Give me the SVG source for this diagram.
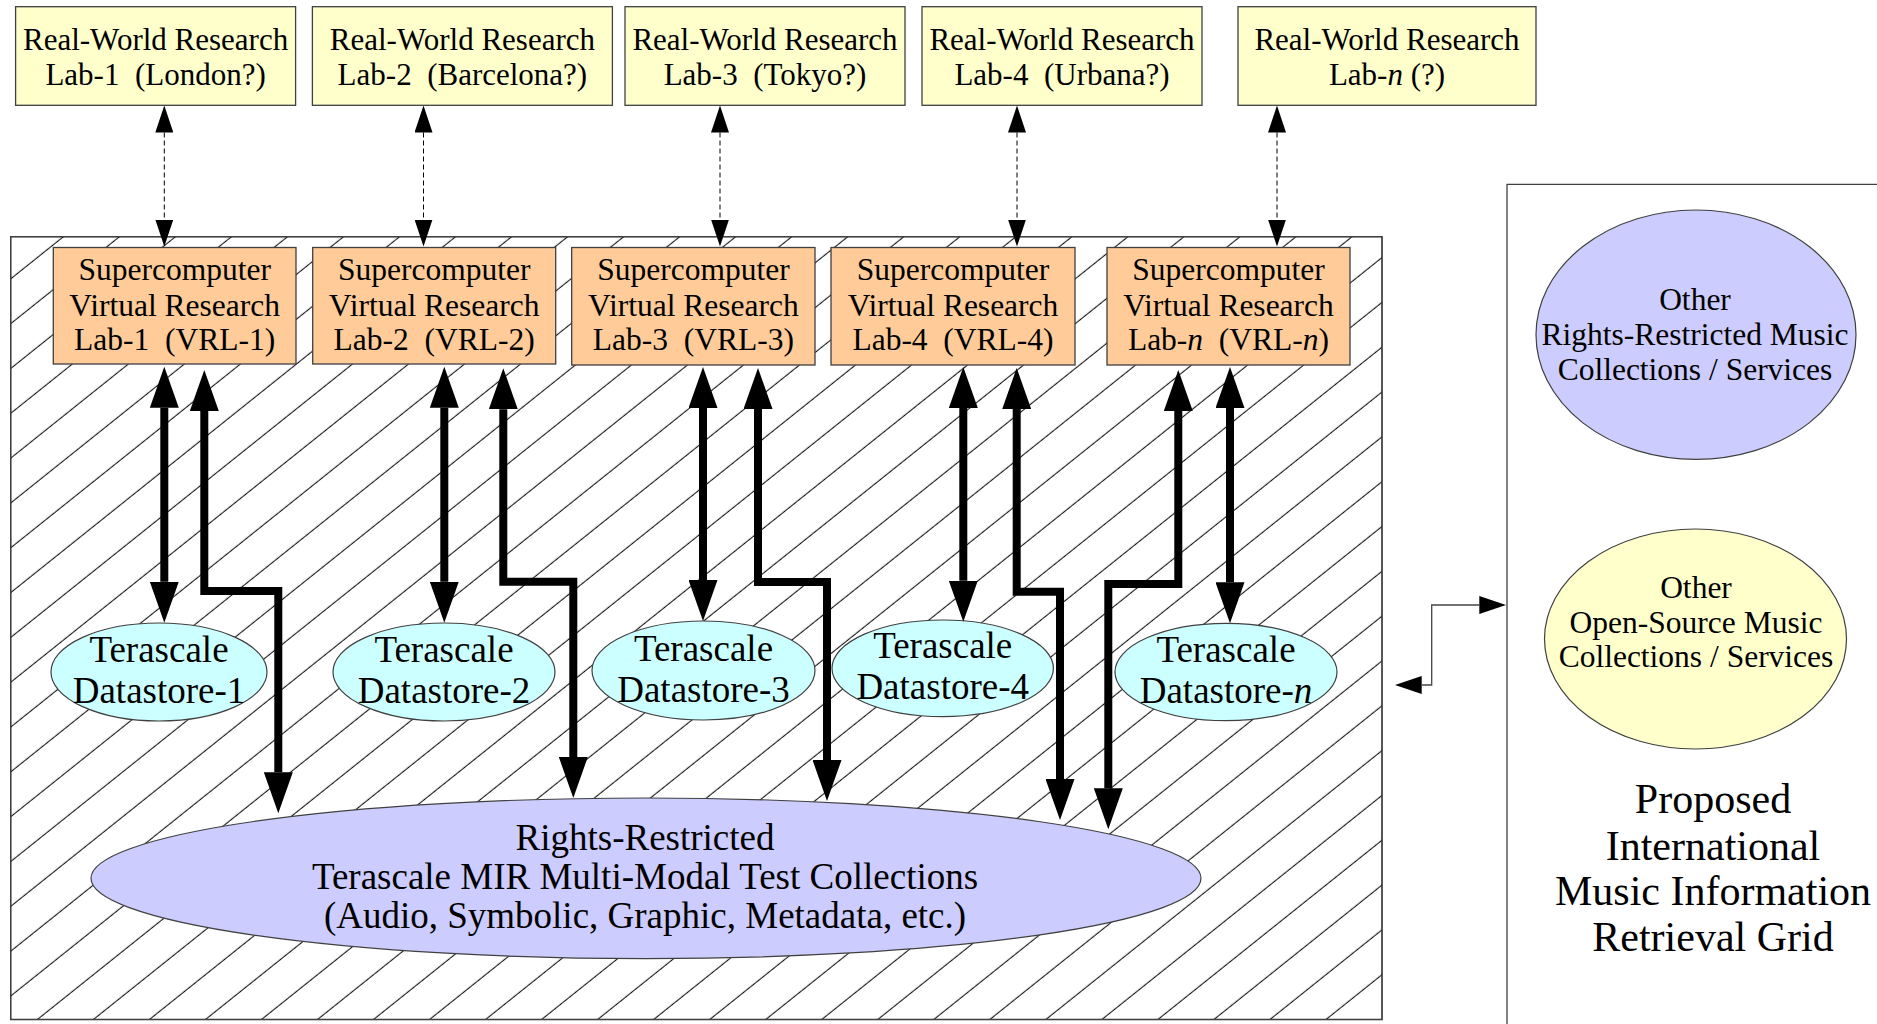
<svg xmlns="http://www.w3.org/2000/svg" width="1877" height="1024" viewBox="0 0 1877 1024">
<defs>
<pattern id="hatch" patternUnits="userSpaceOnUse" width="20" height="35" patternTransform="rotate(-38.66)">
<line x1="-1" y1="14.4" x2="21" y2="14.4" stroke="#000" stroke-width="1"/>
</pattern>
<marker id="big" markerUnits="userSpaceOnUse" viewBox="0 0 41 29" markerWidth="41" markerHeight="29" refX="0" refY="14.5" orient="auto-start-reverse"><path d="M0,0 L41,14.5 L0,29 Z" fill="#000"/></marker>
<marker id="small" markerUnits="userSpaceOnUse" viewBox="0 0 27 18" markerWidth="27" markerHeight="18" refX="0" refY="9" orient="auto-start-reverse"><path d="M0,0 L27,9 L0,18 Z" fill="#000"/></marker>
</defs>
<style>
.t{font-family:"Liberation Serif","Times New Roman",serif;fill:#000;text-anchor:middle}
.f31{font-size:31px}
.f31b{font-size:31.5px}
.f37{font-size:37px}
.f42{font-size:42px}
.lab{fill:#ffffcc;stroke:#404040;stroke-width:1.3}
.vrl{fill:#ffcc99;stroke:#404040;stroke-width:1.3}
.ds{fill:#ccffff;stroke:#404040;stroke-width:1.2}
.lav{fill:#ccccff;stroke:#404040;stroke-width:1.2}
.yel{fill:#ffffcc;stroke:#404040;stroke-width:1.2}
.thick{fill:none;stroke:#000;stroke-width:8;stroke-linejoin:miter;marker-start:url(#big);marker-end:url(#big)}
.dash{fill:none;stroke:#000;stroke-width:1;stroke-dasharray:5 3;marker-start:url(#small);marker-end:url(#small)}
.thin{fill:none;stroke:#444;stroke-width:1.3;marker-start:url(#small);marker-end:url(#small)}
</style>
<rect x="0" y="0" width="1877" height="1024" fill="#fff"/>

<g id="grid-frame">
<rect x="10.7" y="236.7" width="1371.3" height="782.8" fill="#fff" stroke="#404040" stroke-width="1.3"/>
<rect x="10.7" y="236.7" width="1371.3" height="782.8" fill="url(#hatch)"/>
<rect x="10.7" y="236.7" width="1371.3" height="782.8" fill="none" stroke="#404040" stroke-width="1.3"/>
</g>

<g id="mirgrid-panel">
<path d="M1507,1024 V184.3 H1877" fill="none" stroke="#404040" stroke-width="1.3"/>
</g>

<g id="rwl-1"><rect class="lab" x="15.6" y="6.7" width="280" height="98.6"/>
<text class="t f31" x="155.6" y="50">Real-World Research</text>
<text class="t f31" x="155.6" y="85" xml:space="preserve">Lab-1  (London?)</text></g>
<g id="rwl-2"><rect class="lab" x="312.4" y="6.7" width="300" height="98.6"/>
<text class="t f31" x="462.4" y="50">Real-World Research</text>
<text class="t f31" x="462.4" y="85" xml:space="preserve">Lab-2  (Barcelona?)</text></g>
<g id="rwl-3"><rect class="lab" x="625" y="6.7" width="280" height="98.6"/>
<text class="t f31" x="765" y="50">Real-World Research</text>
<text class="t f31" x="765" y="85" xml:space="preserve">Lab-3  (Tokyo?)</text></g>
<g id="rwl-4"><rect class="lab" x="922" y="6.7" width="280" height="98.6"/>
<text class="t f31" x="1062" y="50">Real-World Research</text>
<text class="t f31" x="1062" y="85" xml:space="preserve">Lab-4  (Urbana?)</text></g>
<g id="rwl-n"><rect class="lab" x="1238" y="6.7" width="298" height="98.6"/>
<text class="t f31" x="1387" y="50">Real-World Research</text>
<text class="t f31" x="1387" y="85" xml:space="preserve">Lab-<tspan font-style="italic">n</tspan> (?)</text></g>

<g id="vrl-1"><rect class="vrl" x="53.3" y="247.5" width="242.7" height="116.5"/>
<text class="t f31b" x="174.7" y="280">Supercomputer</text>
<text class="t f31b" x="174.7" y="315.7">Virtual Research</text>
<text class="t f31b" x="174.7" y="350" xml:space="preserve">Lab-1  (VRL-1)</text></g>
<g id="vrl-2"><rect class="vrl" x="312.7" y="247.5" width="243" height="116.5"/>
<text class="t f31b" x="434.2" y="280">Supercomputer</text>
<text class="t f31b" x="434.2" y="315.7">Virtual Research</text>
<text class="t f31b" x="434.2" y="350" xml:space="preserve">Lab-2  (VRL-2)</text></g>
<g id="vrl-3"><rect class="vrl" x="571.7" y="247.5" width="243.3" height="117.5"/>
<text class="t f31b" x="693.4" y="280">Supercomputer</text>
<text class="t f31b" x="693.4" y="315.7">Virtual Research</text>
<text class="t f31b" x="693.4" y="350" xml:space="preserve">Lab-3  (VRL-3)</text></g>
<g id="vrl-4"><rect class="vrl" x="831" y="247.5" width="244" height="117.5"/>
<text class="t f31b" x="953" y="280">Supercomputer</text>
<text class="t f31b" x="953" y="315.7">Virtual Research</text>
<text class="t f31b" x="953" y="350" xml:space="preserve">Lab-4  (VRL-4)</text></g>
<g id="vrl-n"><rect class="vrl" x="1107" y="247.5" width="243" height="117.5"/>
<text class="t f31b" x="1228.5" y="280">Supercomputer</text>
<text class="t f31b" x="1228.5" y="315.7">Virtual Research</text>
<text class="t f31b" x="1228.5" y="350" xml:space="preserve">Lab-<tspan font-style="italic">n</tspan>  (VRL-<tspan font-style="italic">n</tspan>)</text></g>

<g id="ds-1"><ellipse class="ds" cx="159" cy="672" rx="108" ry="49"/>
<text class="t f37" x="159" y="662">Terascale</text>
<text class="t f37" x="159" y="703">Datastore-1</text></g>
<g id="ds-2"><ellipse class="ds" cx="444" cy="672" rx="111" ry="49"/>
<text class="t f37" x="444" y="662">Terascale</text>
<text class="t f37" x="444" y="703">Datastore-2</text></g>
<g id="ds-3"><ellipse class="ds" cx="703.5" cy="670.5" rx="111.5" ry="49.5"/>
<text class="t f37" x="703.5" y="661">Terascale</text>
<text class="t f37" x="703.5" y="702">Datastore-3</text></g>
<g id="ds-4"><ellipse class="ds" cx="942.7" cy="668.3" rx="110.7" ry="48.3"/>
<text class="t f37" x="942.7" y="658">Terascale</text>
<text class="t f37" x="942.7" y="699">Datastore-4</text></g>
<g id="ds-n"><ellipse class="ds" cx="1226" cy="672" rx="111" ry="48.7"/>
<text class="t f37" x="1226" y="662">Terascale</text>
<text class="t f37" x="1226" y="703">Datastore-<tspan font-style="italic">n</tspan></text></g>

<g id="test-collections"><ellipse class="lav" cx="646" cy="878.3" rx="555" ry="80.3"/>
<text class="t f37" x="645" y="850">Rights-Restricted</text>
<text class="t f37" x="645" y="889">Terascale MIR Multi-Modal Test Collections</text>
<text class="t f37" x="645" y="928">(Audio, Symbolic, Graphic, Metadata, etc.)</text></g>

<g id="other-restricted"><ellipse class="lav" cx="1696" cy="334.7" rx="160" ry="124.7"/>
<text class="t f31b" x="1695" y="310">Other</text>
<text class="t f31b" x="1695" y="345">Rights-Restricted Music</text>
<text class="t f31b" x="1695" y="380">Collections / Services</text></g>
<g id="other-open"><ellipse class="yel" cx="1695.5" cy="639" rx="151" ry="110"/>
<text class="t f31b" x="1696" y="598.3">Other</text>
<text class="t f31b" x="1696" y="633.3">Open-Source Music</text>
<text class="t f31b" x="1696" y="667.3">Collections / Services</text></g>

<g id="grid-title">
<text class="t f42" x="1713" y="813">Proposed</text>
<text class="t f42" x="1713" y="860">International</text>
<text class="t f42" x="1713" y="905">Music Information</text>
<text class="t f42" x="1713" y="951">Retrieval Grid</text>
</g>

<g id="connectors">
<path class="dash" d="M164.3,132.5 V219.5"/>
<path class="dash" d="M423.5,132.5 V219.5"/>
<path class="dash" d="M720,132.5 V219.5"/>
<path class="dash" d="M1017,132.5 V219.5"/>
<path class="dash" d="M1277,132.5 V219.5"/>

<path class="thick" d="M164.3,407.7 V581.7"/>
<path class="thick" d="M204.3,411 V591 H278.3 V772.3"/>
<path class="thick" d="M444.3,407.7 V581.7"/>
<path class="thick" d="M503.3,409.3 V581.7 H573.3 V757"/>
<path class="thick" d="M703,408 V580"/>
<path class="thick" d="M758,409 V582 H827 V760"/>
<path class="thick" d="M963.3,408 V580.7"/>
<path class="thick" d="M1016.7,409 V591.7 H1060 V779"/>
<path class="thick" d="M1178.3,411 V584 H1108.3 V788.3"/>
<path class="thick" d="M1230,408 V582.3"/>

<path class="thin" d="M1421.7,685 H1431.7 V605 H1479.3"/>
</g>
</svg>
